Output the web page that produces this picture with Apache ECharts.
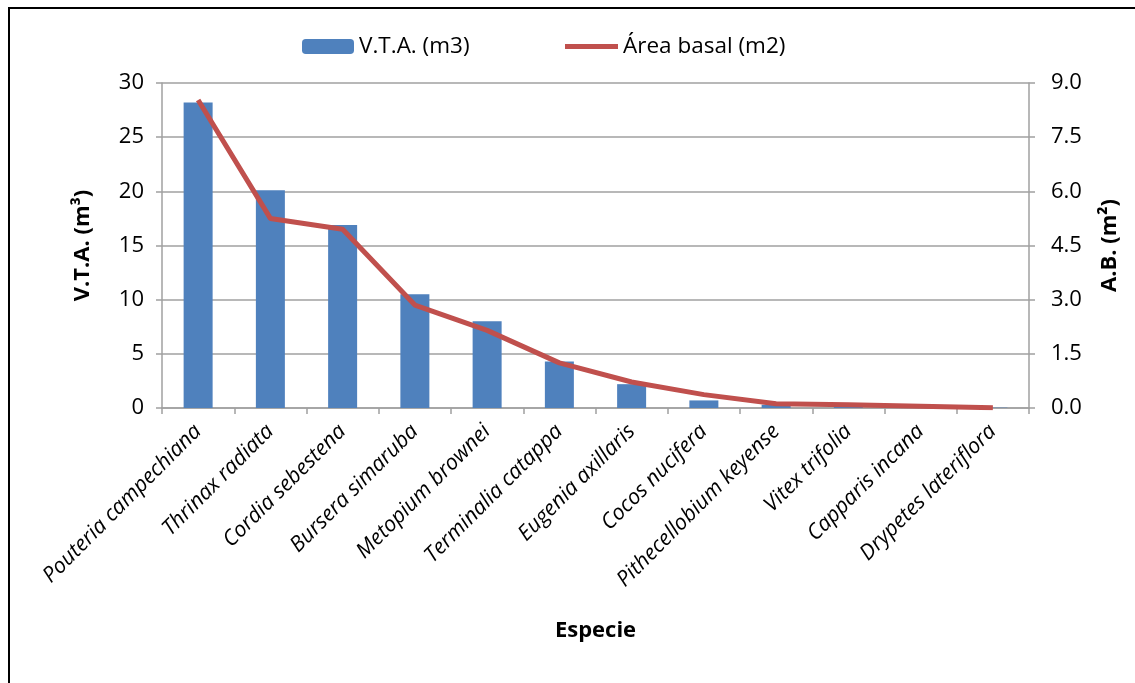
<!DOCTYPE html>
<html>
<head>
<meta charset="utf-8">
<script src="https://cdn.jsdelivr.net/npm/echarts@6/dist/echarts.min.js"></script>
<style>
  html, body { margin: 0; padding: 0; background: #fff; }
  #chart { width: 1135px; height: 683px; }
</style>
</head>
<body>
<div id="chart"></div>
<script>
// species on the x axis
const especies = [
  'Pouteria campechiana', 'Thrinax radiata', 'Cordia sebestena', 'Bursera simaruba',
  'Metopium brownei', 'Terminalia catappa', 'Eugenia axillaris', 'Cocos nucifera',
  'Pithecellobium keyense', 'Vitex trifolia', 'Capparis incana', 'Drypetes lateriflora'
]
// V.T.A. (m3), left axis
const vta = [28.2, 20.1, 16.9, 10.5, 8.0, 4.3, 2.2, 0.7, 0.3, 0.12, 0.06, 0.03]
// Area basal (m2), right axis
const areaBasal = [8.53, 5.25, 4.95, 2.85, 2.15, 1.25, 0.72, 0.37, 0.12, 0.09, 0.05, 0.01]

const font = '"Open Sans", "Noto Sans", sans-serif'
const gridColor = '#a0a0a0'

const chart = echarts.init(document.getElementById('chart'))
chart.setOption({
  animation: false,
  textStyle: { fontFamily: font },
  graphic: [{
    type: 'rect',
    shape: { x: 9, y: 8, width: 1140, height: 700 },
    style: { fill: 'none', stroke: '#000', lineWidth: 2 }
  }],
  // two legends so the line key can be a thin bar
  legend: [{
    top: 30,
    left: 297,
    itemWidth: 52,
    itemHeight: 15,
    textStyle: { fontSize: 22.5, color: '#000', fontFamily: font },
    data: ['V.T.A. (m3)']
  }, {
    top: 30,
    left: 560,
    itemWidth: 53,
    itemHeight: 15,
    icon: 'path://M0,0 L53,0 L53,5 L0,5 Z',
    textStyle: { fontSize: 22.5, color: '#000', fontFamily: font },
    data: ['Área basal (m2)']
  }],
  grid: { left: 162, right: 106, top: 83, bottom: 275 },
  xAxis: {
    type: 'category',
    data: especies,
    name: 'Especie',
    nameLocation: 'middle',
    nameGap: 212,
    nameTextStyle: { fontSize: 22, fontWeight: 'bold', color: '#000', fontFamily: font },
    axisLine: { lineStyle: { color: gridColor, width: 1.5 } },
    axisTick: { show: true, length: 6, lineStyle: { color: gridColor, width: 1.5 } },
    axisLabel: {
      rotate: 45,
      interval: 0,
      fontSize: 21.5,
      fontStyle: 'italic',
      color: '#000',
      margin: 20,
      fontFamily: font
    }
  },
  yAxis: [{
    type: 'value',
    min: 0,
    max: 30,
    interval: 5,
    name: 'V.T.A. (m³)',
    nameLocation: 'middle',
    nameGap: 68,
    nameTextStyle: { fontSize: 22, fontWeight: 'bold', color: '#000', fontFamily: font },
    axisLine: { show: true, lineStyle: { color: gridColor, width: 1.5 } },
    axisTick: { show: true, length: 6, lineStyle: { color: gridColor, width: 1.5 } },
    axisLabel: { fontSize: 22, color: '#000', margin: 18, fontFamily: font },
    splitLine: { lineStyle: { color: gridColor, width: 1.5 } }
  }, {
    type: 'value',
    min: 0,
    max: 9,
    interval: 1.5,
    name: 'A.B. (m²)',
    nameLocation: 'middle',
    nameGap: 70,
    nameRotate: 90,
    nameTextStyle: { fontSize: 22, fontWeight: 'bold', color: '#000', fontFamily: font },
    axisLine: { show: true, lineStyle: { color: gridColor, width: 1.5 } },
    axisTick: { show: true, length: 6, lineStyle: { color: gridColor, width: 1.5 } },
    axisLabel: {
      fontSize: 22, color: '#000', margin: 22, fontFamily: font,
      formatter: v => v.toFixed(1)
    },
    splitLine: { show: false }
  }],
  series: [{
    name: 'V.T.A. (m3)',
    type: 'bar',
    data: vta,
    barWidth: 29,
    itemStyle: { color: '#4F81BD' }
  }, {
    name: 'Área basal (m2)',
    type: 'line',
    yAxisIndex: 1,
    data: areaBasal,
    symbol: 'none',
    lineStyle: { color: '#C0504D', width: 5 },
    itemStyle: { color: '#C0504D' }
  }]
})
</script>
</body>
</html>
